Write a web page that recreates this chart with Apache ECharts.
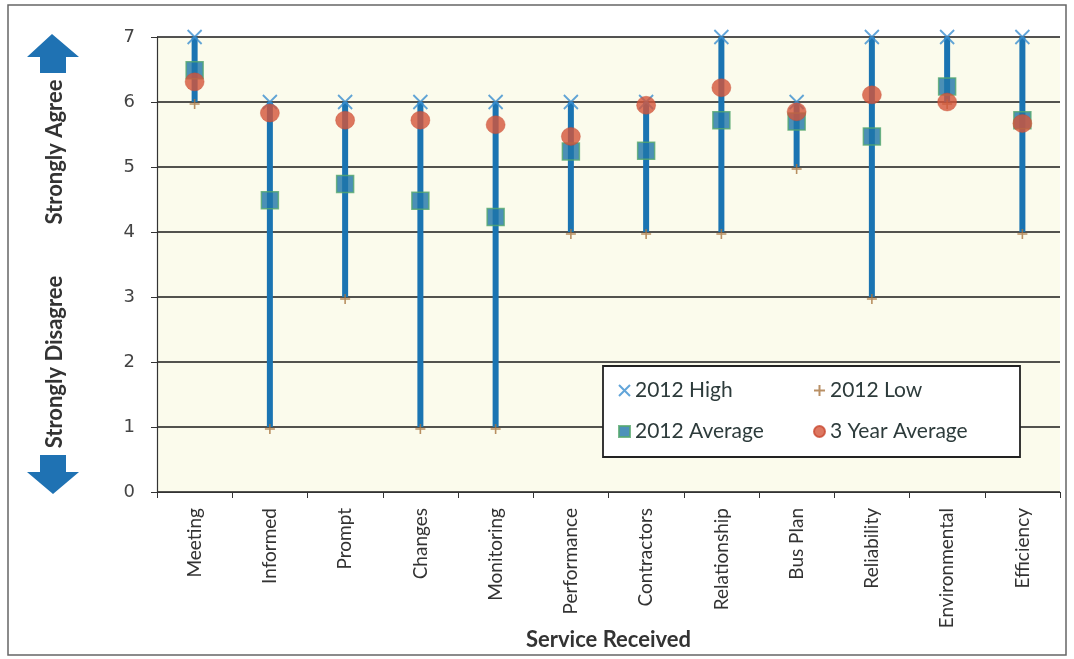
<!DOCTYPE html>
<html>
<head>
<meta charset="utf-8">
<script src="https://cdn.jsdelivr.net/npm/echarts@6/dist/echarts.min.js"></script>
<style>html,body{margin:0;padding:0;background:#fff;}#c{width:1074px;height:659px;}</style>
</head>
<body>
<div id="c"></div>
<script>
const categories = ['Meeting','Informed','Prompt','Changes','Monitoring','Performance','Contractors','Relationship','Bus Plan','Reliability','Environmental','Efficiency'];
const high2012 = [7, 6, 6, 6, 6, 6, 6, 7, 6, 7, 7, 7];
const low2012 = [6, 1, 3, 1, 1, 4, 4, 4, 5, 3, 6, 4];
const avg2012 = [6.49, 4.49, 4.74, 4.48, 4.23, 5.24, 5.25, 5.72, 5.7, 5.47, 6.24, 5.72];
const avg3yr = [6.31, 5.83, 5.72, 5.72, 5.65, 5.47, 5.95, 6.22, 5.85, 6.11, 6.0, 5.67];
const yTicks = [0,1,2,3,4,5,6,7];

const chart = echarts.init(document.getElementById('c'));
const xSym = 'path://M0,0L10,10M10,0L0,10';
const plusSym = 'path://M5,0L5,10M0,5L10,5';

chart.setOption({
  backgroundColor: '#ffffff',
  animation: false,
  grid: { left: 157, right: 14, top: 37, bottom: 167, outerBoundsMode: 'none', containLabel: false,
    show: true, backgroundColor: '#fbfbec', borderWidth: 0 },
  xAxis: {
    type: 'category', data: categories, boundaryGap: true,
    axisLine: { show: true, lineStyle: { color: '#333', width: 1.2 } },
    axisTick: { show: true, length: 6, lineStyle: { color: '#333' } },
    axisLabel: { rotate: 90, fontFamily: 'Lato', fontSize: 19, color: '#333', margin: 16 },
    name: 'Service Received', nameLocation: 'middle', nameGap: 137, nameMoveOverlap: false,
    nameTextStyle: { fontFamily: 'Lato', fontWeight: 'bold', fontSize: 22, color: '#333' }
  },
  yAxis: {
    type: 'value', min: 0, max: 7, interval: 1,
    axisLine: { show: true, lineStyle: { color: '#333', width: 1.2 } },
    axisTick: { show: true, length: 6, lineStyle: { color: '#333' } },
    splitLine: { show: true, lineStyle: { color: '#1a1a1a', width: 1.5 } },
    axisLabel: { fontFamily: 'DejaVu Sans', fontSize: 18, color: '#444', margin: 22,
      formatter: v => yTicks.includes(v) ? String(v) : '' }
  },
  legend: [
    { data: ['2012 High', '2012 Average'], orient: 'vertical', left: 613, top: 375, itemGap: 20,
      itemWidth: 11, itemHeight: 11, textStyle: { fontFamily: 'Lato', fontSize: 21, color: '#2d3b3b' }, z: 10 },
    { data: ['2012 Low', '3 Year Average'], orient: 'vertical', left: 808, top: 375, itemGap: 20,
      itemWidth: 11, itemHeight: 11, textStyle: { fontFamily: 'Lato', fontSize: 21, color: '#2d3b3b' }, z: 10 }
  ],
  graphic: [
    { type: 'rect', shape: { x: 8, y: 5, width: 1058, height: 650 }, style: { fill: 'none', stroke: '#666', lineWidth: 1.5 }, z: 100 },
    { type: 'rect', shape: { x: 603, y: 366, width: 417, height: 91 }, style: { fill: '#ffffff', stroke: '#222', lineWidth: 1.8 }, z: 5 },
    { type: 'polygon', shape: { points: [[52,34],[79,57],[66,57],[66,73],[40,73],[40,57],[27,57]] }, style: { fill: '#1f72b3' } },
    { type: 'polygon', shape: { points: [[40,455],[66,455],[66,472],[79,472],[53,494],[27,472],[40,472]] }, style: { fill: '#1f72b3' } },
    { type: 'text', x: 55, y: 152, rotation: Math.PI / 2, style: { text: 'Strongly Agree', font: 'bold 22px Lato', fill: '#333', align: 'center', verticalAlign: 'middle' } },
    { type: 'text', x: 55, y: 362, rotation: Math.PI / 2, style: { text: 'Strongly Disagree', font: 'bold 22px Lato', fill: '#333', align: 'center', verticalAlign: 'middle' } }
  ],
  series: [
    {
      type: 'custom', name: 'range',
      data: categories.map((c, i) => [i, low2012[i], high2012[i]]),
      encode: { x: 0, y: [1, 2] },
      renderItem: function (params, api) {
        const i = api.value(0);
        const lo = api.coord([i, api.value(1)]);
        const hi = api.coord([i, api.value(2)]);
        return { type: 'line', shape: { x1: lo[0], y1: lo[1], x2: hi[0], y2: hi[1] },
          style: { stroke: '#1a74b2', lineWidth: 6 } };
      },
      z: 2
    },
    { type: 'scatter', name: '2012 High', data: high2012, symbol: xSym, symbolSize: 14,
      itemStyle: { color: 'rgba(0,0,0,0)', borderColor: '#3b8fcf', borderWidth: 1.8 }, z: 3 },
    { type: 'scatter', name: '2012 Low', data: low2012, symbol: plusSym, symbolSize: 10, symbolOffset: [0, 2],
      itemStyle: { color: 'rgba(0,0,0,0)', borderColor: '#a8743f', borderWidth: 1.6 }, z: 3 },
    { type: 'scatter', name: '2012 Average', data: avg2012, symbol: 'rect', symbolSize: 17,
      itemStyle: { color: '#1f76a9', borderColor: '#55a86e', borderWidth: 1.5 }, z: 4 },
    { type: 'scatter', name: '3 Year Average', data: avg3yr, symbol: 'circle', symbolSize: [19, 18],
      itemStyle: { color: '#d4553a', borderColor: '#c94a32', borderWidth: 0.5 }, z: 5 }
  ]
});
</script>
</body>
</html>
